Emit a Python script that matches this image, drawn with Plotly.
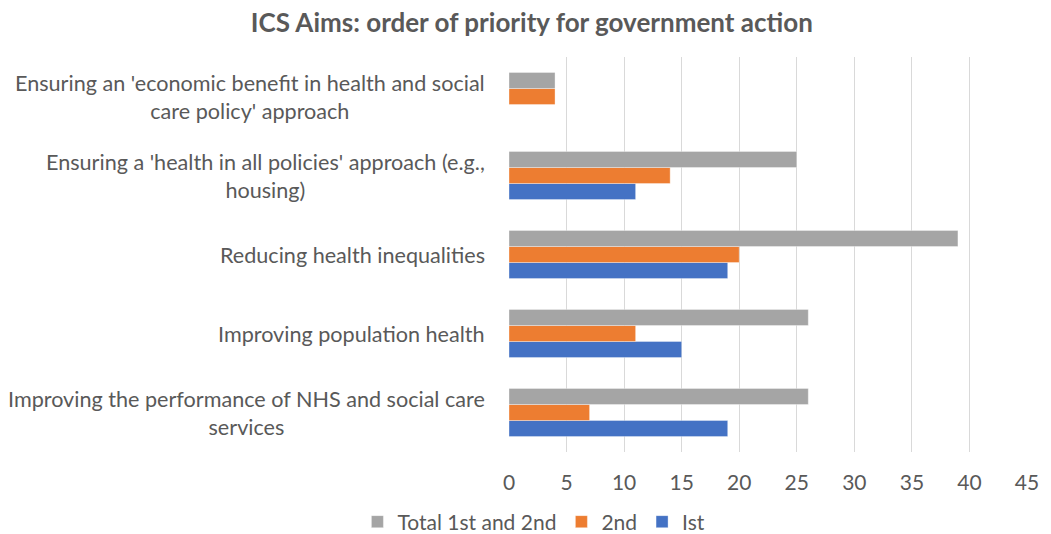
import plotly.graph_objects as go

# Aims, listed bottom to top as they appear on the chart
categories = [
    "Improving the performance of NHS and social care<br>services",
    "Improving population health",
    "Reducing health inequalities",
    "Ensuring a 'health in all policies' approach (e.g.,<br>housing)",
    "Ensuring an 'economic benefit in health and social<br>care policy' approach",
]
first_choice = [19, 15, 19, 11, 0]
second_choice = [7, 11, 20, 14, 4]
total_first_second = [26, 26, 39, 25, 4]

x_ticks = [0, 5, 10, 15, 20, 25, 30, 35, 40, 45]

FONT = "Lato"
TEXT = "#595959"

fig = go.Figure()
series = [
    ("Ist", first_choice, "#4472C4"),
    ("2nd", second_choice, "#ED7D31"),
    ("Total 1st and 2nd", total_first_second, "#A5A5A5"),
]
for name, vals, color in series:
    fig.add_trace(go.Bar(
        y=categories, x=vals, name=name, orientation="h",
        marker=dict(color=color, line=dict(color="rgba(255,255,255,0.35)", width=1)),
    ))

# Category labels, centred line by line and right-aligned against the axis
for cat in categories:
    fig.add_annotation(
        x=-0.0425, xref="paper", y=cat, yref="y", text=cat,
        showarrow=False, xanchor="right", yanchor="middle", align="center",
        font=dict(family=FONT, size=21.6, color=TEXT),
    )

fig.update_layout(
    width=1051, height=534,
    margin=dict(l=509, r=24, t=57, b=82, autoexpand=False),
    paper_bgcolor="white", plot_bgcolor="white",
    barmode="group", bargap=0.39, bargroupgap=0,
    title=dict(
        text="<b>ICS Aims: order of priority for government action</b>",
        x=0.506, xref="container", xanchor="center",
        y=0.957, yref="container", yanchor="middle",
        font=dict(family=FONT, size=26, color=TEXT),
    ),
    xaxis=dict(
        range=[0, 45], tickvals=x_ticks, showgrid=True, gridcolor="#D9D9D9",
        gridwidth=1, zeroline=False, showline=False, ticks="",
        ticklabelstandoff=16,
        tickfont=dict(family=FONT, size=21, color=TEXT),
    ),
    yaxis=dict(showticklabels=False, showgrid=False, zeroline=False,
               categoryorder="array", categoryarray=categories),
    legend=dict(
        orientation="h", x=0.508, xref="container", xanchor="center",
        y=0.0225, yref="container", yanchor="middle",
        traceorder="reversed", font=dict(family=FONT, size=21, color=TEXT),
        itemwidth=30,
    ),
)

fig.write_html("out.html")
